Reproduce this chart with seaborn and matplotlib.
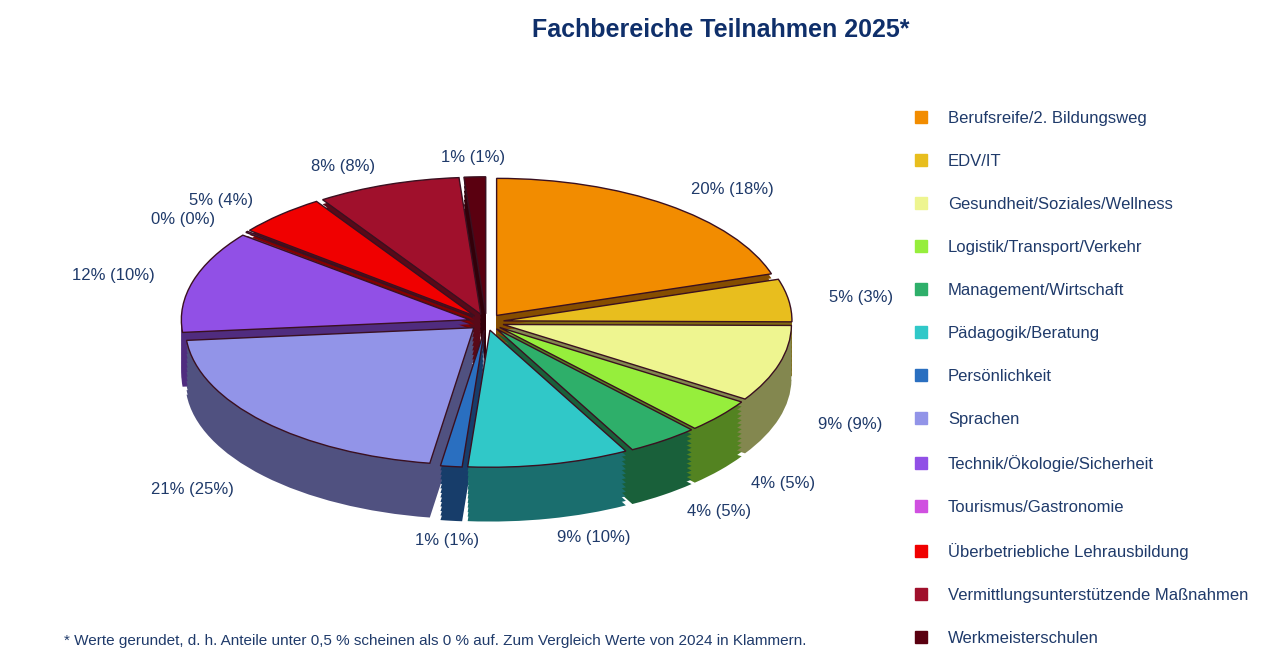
import matplotlib
matplotlib.use("Agg")
import matplotlib.pyplot as plt
import matplotlib.colors as mcolors
import numpy as np
import seaborn as sns

# data
categories = ["Berufsreife/2. Bildungsweg", "EDV/IT", "Gesundheit/Soziales/Wellness",
              "Logistik/Transport/Verkehr", "Management/Wirtschaft", "Pädagogik/Beratung",
              "Persönlichkeit", "Sprachen", "Technik/Ökologie/Sicherheit",
              "Tourismus/Gastronomie", "Überbetriebliche Lehrausbildung",
              "Vermittlungsunterstützende Maßnahmen", "Werkmeisterschulen"]
share_2025 = [20, 5, 9, 4, 4, 9, 1, 21, 12, 0, 5, 8, 1]
share_2024 = [18, 3, 9, 5, 5, 10, 1, 25, 10, 0, 4, 8, 1]
# pie size uses a small minimum so the 0 % slice is still a thin line
slice_sizes = [20, 5, 9, 4, 4, 9, 1.2, 21, 12, 0.15, 5, 8, 1.2]
colors = ["#F28C00", "#E8BE1E", "#EEF590", "#96EE3C", "#2EAF6A", "#30C8C8", "#2A6FC0",
          "#9294E8", "#9150E6", "#D050E0", "#F00000", "#A0102C", "#5A0010"]

sns.set_theme(style="white")
plt.rcParams["font.family"] = ["Liberation Sans", "DejaVu Sans"]

fig = plt.figure(figsize=(12.8, 6.62), dpi=100)
ax = fig.add_axes([0.06, 0.18, 0.64, 0.70])

explode = [0.06] * len(categories)
dark = [tuple(c * 0.55 for c in mcolors.to_rgb(col)) for col in colors]

# fake 3D side: stack darker copies downwards
for dy in [x * 0.033 for x in range(12, 0, -1)]:
    ax.pie(slice_sizes, colors=dark, startangle=90, counterclock=False,
           explode=explode, center=(0, -dy), radius=1,
           wedgeprops={"linewidth": 0})

wedges, _ = ax.pie(slice_sizes, colors=colors, startangle=90, counterclock=False,
                   explode=explode, radius=1,
                   wedgeprops={"linewidth": 1.0, "edgecolor": "#3a1020"})

total = sum(slice_sizes)
ang = 90.0
for i, s in enumerate(slice_sizes):
    mid = ang - s / total * 360 / 2
    ang -= s / total * 360
    r = 1.2
    x, y = r * np.cos(np.radians(mid)), r * np.sin(np.radians(mid))
    if y < 0:
        y -= 0.4
    ha = "left" if x > 0.15 else ("right" if x < -0.15 else "center")
    ax.text(x, y, f"{share_2025[i]}% ({share_2024[i]}%)", ha=ha, va="center",
            fontsize=12, color="#1f3a6a")

ax.set_aspect("auto")
ax.set_xlim(-1.42, 1.42)
ax.set_ylim(-1.61, 1.77)
ax.axis("off")

handles = [plt.Line2D([], [], marker="s", linestyle="", markersize=8, color=c) for c in colors]
fig.legend(handles, categories, loc="upper left", bbox_to_anchor=(0.695, 0.855),
           frameon=False, fontsize=12, labelspacing=1.68, handletextpad=0.6,
           labelcolor="#1f3a6a")

fig.text(0.563, 0.955, "Fachbereiche Teilnahmen 2025*", ha="center", va="center",
         fontsize=18, fontweight="bold", color="#0f2f6a")
fig.text(0.05, 0.025, "* Werte gerundet, d. h. Anteile unter 0,5 % scheinen als 0 % auf. "
         "Zum Vergleich Werte von 2024 in Klammern.", fontsize=11, color="#1f3a6a")

fig.savefig("out.png", dpi=100, facecolor="white")
